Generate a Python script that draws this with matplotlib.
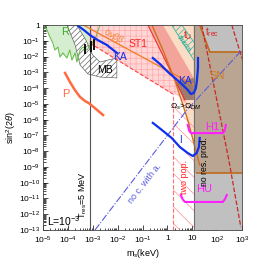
import numpy as np
import matplotlib
matplotlib.use('Agg')
import matplotlib.pyplot as plt
from matplotlib.ticker import FixedLocator, LogLocator, NullFormatter

plt.rcParams['font.family'] = ['Liberation Sans', 'DejaVu Sans']
plt.rcParams['mathtext.fontset'] = 'custom'
plt.rcParams['mathtext.rm'] = 'Liberation Sans'
plt.rcParams['mathtext.it'] = 'Liberation Sans:italic'
plt.rcParams['hatch.linewidth'] = 0.5

# ticks
x_ticks = [1e-5, 1e-4, 1e-3, 1e-2, 1e-1, 1, 10, 1e2, 1e3]
x_labels = [r'$10^{-5}$', r'$10^{-4}$', r'$10^{-3}$', r'$10^{-2}$', r'$10^{-1}$',
            '1', '10', r'$10^{2}$', r'$10^{3}$']
y_exps = [0, -1, -2, -3, -4, -5, -6, -7, -8, -9, -10, -11, -12, -13]

# R (green)
r_m = [1e-5, 1.45e-5, 1.9e-5, 2.5e-5, 3e-5, 4e-5, 4.8e-5, 6.3e-5, 9.1e-5, 1.2e-4,
       1.45e-4, 1.95e-4, 2.3e-4, 3.1e-4, 4.1e-4, 5.9e-4, 7.8e-4, 1.23e-3, 1.5e-3, 1.95e-3]
r_s = [1, 0.48, 0.17, 0.072, 0.026, 0.04, 0.0093, 0.017, 0.0081, 0.026,
       0.006, 0.017, 0.0045, 0.026, 0.04, 0.026, 0.054, 0.11, 0.31, 1]

# MB (hatched)
mb_m = [9.2e-5, 2.3e-4, 5.3e-4, 1.0e-3, 1.95e-3, 4.1e-3, 9.3e-3, 9.3e-3, 1.95e-3, 6.4e-4, 3.1e-4, 1.95e-4]
mb_s = [1, 1, 0.11, 0.0125, 4.5e-3, 6e-3, 8.1e-3, 4.4e-4, 5e-4, 7.9e-4, 2.9e-3, 0.054]

# black error bars
bar_m = [4.9e-4, 8.5e-4, 1.12e-3]
bar_lo = [0.0145, 0.0195, 0.026]
bar_hi = [0.062, 0.097, 0.13]

# P (coral)
p_m = [7.7e-5, 1.2e-4, 1.9e-4, 3.1e-4, 4.9e-4, 7.0e-4, 1.2e-3, 2.6e-3]
p_s = [9.1e-4, 2.5e-4, 7.6e-5, 2.7e-5, 1.5e-5, 1.1e-5, 5.5e-6, 1.95e-6]

# KA curves
ka1_m = [2.3e-4, 4.4e-4, 7.7e-4, 1.6e-3, 3.7e-3, 5.9e-3, 9.4e-3]
ka1_s = [1, 0.48, 0.23, 0.11, 0.054, 0.03, 0.017]
ka2_m = [0.26, 0.5, 1.05, 2.2, 3.8, 6.6, 8.8, 11.5, 14, 15.5, 17, 17]
ka2_s = [8.1e-3, 3.4e-3, 1.05e-3, 3.8e-4, 1.8e-4, 7.6e-5, 4.2e-5, 4.9e-5, 1e-4, 3.2e-4, 1.9e-3, 8.1e-3]
ka3_m = [0.26, 0.6, 1.5, 3.2, 6.6, 10.5, 15, 18.5, 20]
ka3_s = [6.2e-7, 2.2e-7, 6.8e-8, 1.8e-8, 7.6e-9, 4.9e-9, 7.6e-9, 1.8e-8, 6.8e-8]

# T_res = 5 MeV line
t_res_m = 7.5e-4

# ST1 (pink)
st1_m = [t_res_m, 11.6, 11.6, 1.66, t_res_m]
st1_s = [1, 1, 1.75e-5, 4.2e-5, 0.072]

# 0vbb line
nbb_m = [4.1e-4, 11.6]
nbb_s = [1, 1.6e-4]

# Omega_s = Omega_DM line
om_m = [0.24, 0.66, 2.0, 6.6, 20]
om_s = [1, 0.026, 3.2e-4, 9.5e-7, 1.3e-9]

# peach region right of the Omega line
peach_m = [0.24, 0.66, 2.0, 6.6, 11.6, 11.6]
peach_s = [1, 0.026, 3.2e-4, 9.5e-7, 3.3e-8, 1]

# salmon band
salmon_m = [0.165, 0.66, 11.6, 11.6, 5.05]
salmon_s = [1, 1, 4.4e-4, 1.75e-5, 1.75e-5]

# dark overlap
dark_m = [2.2, 11.6, 11.6, 4.6]
dark_s = [2.4e-4, 4.4e-4, 1.75e-5, 1.75e-5]

# thermalisation band
teal_m = [1.5, 3.8, 11.6, 11.6]
teal_s = [1, 1, 0.083, 0.006]

# two populations region
twopop_m = [1.66, 11.6]
twopop_top = 4.2e-5

# no resonant production / SN
gray_m0 = 11.6
sn_m = [11.6, 20, 51, 1000, 1000, 11.6]
sn_s = [1, 1, 0.0195, 0.0195, 4.1e-10, 4.1e-10]

# t_rec dashed lines
trec1_m = [24, 97, 295, 895]
trec1_s = [1, 1.75e-5, 2.75e-9, 1.55e-13]
trec2_m = [390, 1000]
trec2_s = [1, 7.4e-3]

# no coupling with actives line
noc_m = [1.23e-3, 6.1, 1000]
noc_s = [1e-13, 4.1e-6, 0.026]

# H1 / HU brackets
h1_m = [6.6, 7.5, 8.8, 170, 200, 224]
h1_s = [4.6e-7, 2e-7, 1.4e-7, 1.4e-7, 2e-7, 4.6e-7]
hu_m = [3.5, 4.1, 5.05, 170, 205, 245]
hu_s = [1.66e-11, 9e-12, 6e-12, 6e-12, 9e-12, 1.66e-11]

fig = plt.figure(figsize=(2.69, 2.60), dpi=100)
ax = fig.add_axes([43 / 269, 30 / 260, 199 / 269, 205 / 260])
ax.set_xscale('log')
ax.set_yscale('log')
ax.set_xlim(1e-5, 1e3)
ax.set_ylim(1e-13, 1)

# filled regions
ax.fill_between(r_m, r_s, 1, color='#d6eed0', lw=0, zorder=1)
ax.fill(mb_m, mb_s, facecolor='white', edgecolor='#666666', hatch='//////', lw=0.5, zorder=2)
ax.fill(st1_m, st1_s, facecolor='#ffd6d6', edgecolor='#ffaaaa', hatch='+++', lw=0, zorder=1.5)
ax.fill(peach_m, peach_s, facecolor='#fbdcc4', lw=0, zorder=2)
ax.fill(salmon_m, salmon_s, facecolor='#f3a49a', lw=0, zorder=2.1)
ax.fill(dark_m, dark_s, facecolor='#9c7a6c', lw=0, zorder=2.2)
ax.fill(teal_m, teal_s, facecolor='none', edgecolor='#30b8a8', hatch='/////', lw=0, zorder=2.3)
ax.fill_between(twopop_m, 1e-13, twopop_top, facecolor='none', edgecolor='#ff9090',
                hatch='\\\\', lw=0, zorder=2.3)
ax.axvspan(gray_m0, 1e3, color='#c0c0c0', lw=0, zorder=3)
ax.fill(sn_m, sn_s, facecolor='#b9a592', lw=0, zorder=3.1)

# lines
ax.plot(r_m, r_s, color='#6cc050', lw=0.8, zorder=4)
ax.vlines(bar_m, bar_lo, bar_hi, color='k', lw=1.3, zorder=5)
ax.axvline(t_res_m, color='#555555', lw=0.8, zorder=4)
ax.plot([st1_m[4], st1_m[3]], [st1_s[4], st1_s[3]], color='#ff4040', ls='--', lw=0.8, zorder=4)
ax.plot([salmon_m[0], salmon_m[4]], [salmon_s[0], salmon_s[4]], color='#ee3030', lw=0.8, zorder=4)
ax.vlines(twopop_m[0], 1e-13, twopop_top, color='#ff7070', ls='--', lw=0.8, zorder=4)
ax.plot(nbb_m, nbb_s, color='#f08030', lw=1.0, zorder=4)
ax.plot(om_m, om_s, color='#d07020', lw=1.0, zorder=4)
ax.plot([teal_m[0], teal_m[3]], [teal_s[0], teal_s[3]], color='#30b8a8', lw=0.6, zorder=4)
ax.plot([teal_m[1], teal_m[2]], [teal_s[1], teal_s[2]], color='#30b8a8', lw=0.6, zorder=4)
ax.axvline(gray_m0, color='#707070', lw=0.8, zorder=4)
ax.plot(sn_m[1:4], sn_s[1:4], color='#c06a1a', lw=1.2, zorder=4)
ax.plot([15, 1000], [sn_s[4], sn_s[4]], color='#c06a1a', lw=1.2, zorder=4)
ax.plot(trec1_m, trec1_s, color='#c82828', ls='--', lw=0.9, zorder=4)
ax.plot(trec2_m, trec2_s, color='#c82828', ls='--', lw=0.9, zorder=4)
ax.plot(noc_m, noc_s, color='#5a5ae0', ls='-.', lw=0.8, zorder=4.5)
ax.plot(p_m, p_s, color='#ff6a40', lw=1.8, zorder=5)
ax.plot(ka1_m, ka1_s, color='#1030f0', lw=1.6, zorder=5)
ax.plot(ka2_m, ka2_s, color='#1030f0', lw=1.6, zorder=5)
ax.plot(ka3_m, ka3_s, color='#1030f0', lw=1.6, zorder=5)
ax.plot(h1_m, h1_s, color='#ff20ff', lw=1.5, zorder=5)
ax.plot(hu_m, hu_s, color='#ff20ff', lw=1.5, zorder=5)

# labels
kw = dict(zorder=6, ha='center', va='center')
ax.text(7.7e-5, 0.36, 'R', color='#40a830', fontsize=8, **kw)
ax.text(8.4e-5, 4.2e-5, 'P', color='#ff6a40', fontsize=8, **kw)
ax.text(3.1e-3, 1.4e-3, 'MB', color='k', fontsize=7.5, **kw)
ax.text(0.0124, 9.3e-3, 'KA', color='#1030f0', fontsize=7.5, **kw)
ax.text(5.05, 2.8e-4, 'KA', color='#1030f0', fontsize=7.5, **kw)
ax.text(3.5, 5.1e-8, 'I', color='#1030f0', fontsize=7, **kw)
ax.text(0.065, 0.062, 'ST1', color='#ff2020', fontsize=7.5, **kw)
ax.text(7.1e-3, 0.2, r'0$\nu\beta\beta$', color='#f08030', fontsize=6.5, rotation=-28, **kw)
ax.text(4.6, 0.054, 'therm.', color='#20a898', fontsize=5.5, rotation=-55, **kw)
ax.text(6.65, 0.23, r't$_{\rm U}$', color='#e02020', fontsize=7, **kw)
ax.text(61, 0.36, r't$_{\rm rec}$', color='#e02020', fontsize=7, **kw)
ax.text(97, 5.9e-4, 'SN', color='#d07a20', fontsize=8, **kw)
ax.text(5.5, 6.3e-6, r'$\Omega_s$>$\Omega_{DM}$', color='k', fontsize=6, **kw)
ax.text(61, 3.4e-7, 'H1', color='#ff20ff', fontsize=8, **kw)
ax.text(30, 3.8e-11, 'HU', color='#ff20ff', fontsize=8, **kw)
ax.text(5.05, 2.3e-10, 'two pop.', color='#ff2020', fontsize=6.5, rotation=90, **kw)
ax.text(32, 2.3e-9, 'no res. prod.', color='k', fontsize=6.2, rotation=90, **kw)
ax.text(0.125, 9.5e-11, 'no c. with a.', color='#5a5ae0', fontsize=6.5, rotation=52, **kw)
ax.text(4.1e-4, 1.66e-11, r'T$_{\rm res}$=5 MeV', color='k', fontsize=6.5, rotation=90, **kw)
ax.text(1.45e-5, 3.7e-13, r'L=10$^{-3}$', color='k', fontsize=7.5, ha='left', va='center', zorder=6)

# axes styling
ax.xaxis.set_major_locator(FixedLocator(x_ticks))
ax.set_xticklabels(x_labels)
ax.xaxis.set_minor_locator(LogLocator(base=10, subs=np.arange(2, 10), numticks=100))
ax.xaxis.set_minor_formatter(NullFormatter())
y_ticks = [10.0 ** e for e in y_exps]
ax.yaxis.set_major_locator(FixedLocator(y_ticks))
ax.set_yticklabels(['1'] + [r'$10^{%d}$' % e for e in y_exps[1:]])
ax.yaxis.set_minor_locator(LogLocator(base=10, subs=np.arange(2, 10), numticks=100))
ax.yaxis.set_minor_formatter(NullFormatter())
ax.tick_params(which='both', direction='in', labelsize=6, width=0.5)
ax.tick_params(axis='y', pad=2)
ax.tick_params(axis='x', pad=3.5)
ax.tick_params(which='major', length=3.5)
ax.tick_params(which='minor', length=1.8)
for sp in ax.spines.values():
    sp.set_linewidth(0.6)
    sp.set_color('#444444')
    sp.set_zorder(7)

ax.set_xlabel(r'm$_s$(keV)', fontsize=6.5, labelpad=0.5)
ax.set_ylabel(r'sin$^2$(2$\theta$)', fontsize=6.5, labelpad=1)

fig.savefig('out.png', dpi=100)
